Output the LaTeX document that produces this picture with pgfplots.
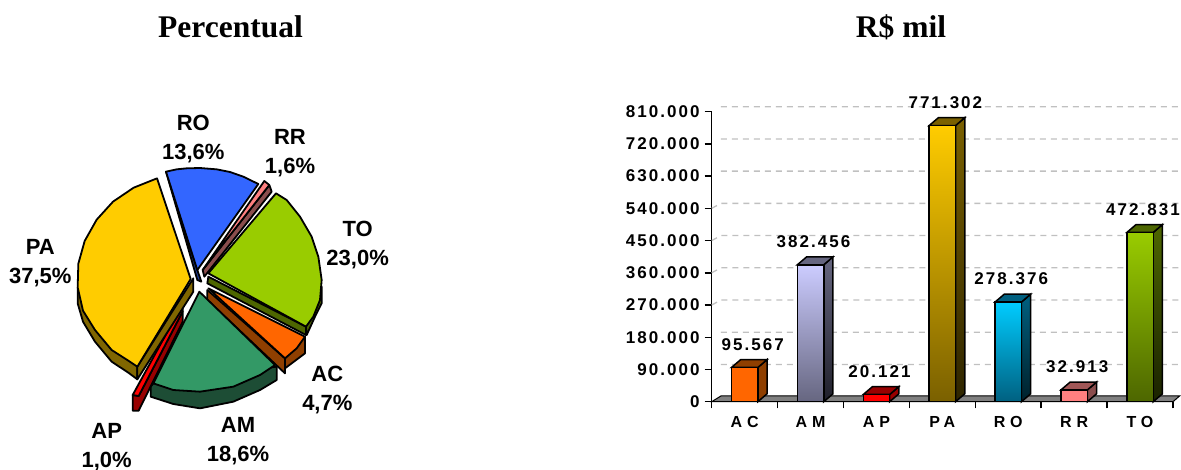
\documentclass[border=0pt]{standalone}
\usepackage{fontspec}
\usepackage{pgfplots}
\pgfplotsset{compat=1.18}
\setmainfont{Liberation Sans}
\newfontfamily\titlefont{Liberation Serif}
\newfontfamily\spaced[LetterSpace=12]{Liberation Sans}
\newfontfamily\wide[LetterSpace=30]{Liberation Sans}

\definecolor{cAC}{HTML}{FF6600}\definecolor{dAC}{HTML}{8F3F00}
\definecolor{cAMp}{HTML}{339966}\definecolor{dAMp}{HTML}{1D4D35}
\definecolor{cAP}{HTML}{FF0000}\definecolor{dAP}{HTML}{990000}
\definecolor{cPA}{HTML}{FFCC00}\definecolor{dPA}{HTML}{806600}
\definecolor{cROp}{HTML}{3366FF}\definecolor{dROp}{HTML}{1F3D99}
\definecolor{cRR}{HTML}{FF8080}\definecolor{dRR}{HTML}{8A4D4D}
\definecolor{cTO}{HTML}{99CC00}\definecolor{dTO}{HTML}{4D6600}
\definecolor{cAM}{HTML}{CCCCFF}\definecolor{mAM}{HTML}{666680}\definecolor{kAM}{HTML}{1F1F2A}
\definecolor{kPA}{HTML}{2E2500}\definecolor{mPA}{HTML}{7A6000}
\definecolor{cRO}{HTML}{00CCFF}\definecolor{mRO}{HTML}{006080}\definecolor{kRO}{HTML}{00202A}
\definecolor{kTO}{HTML}{1A2200}
\definecolor{gridc}{HTML}{C0C0C0}\definecolor{floorc}{HTML}{808080}

\pgfplotsset{
  wedge/.style={draw=black, line width=1.8pt, line join=round},
}
\tikzset{pielabel/.style={font=\bfseries\fontsize{22}{29}\selectfont, align=center, inner sep=0pt}}

\begin{document}
\begin{tikzpicture}[x=1pt,y=1pt]
\path[use as bounding box] (0,0) rectangle (1181,469);
\node[font=\titlefont\bfseries\fontsize{31.5}{32}\selectfont] at (230.5,442) {Percentual};
\node[font=\titlefont\bfseries\fontsize{31.5}{32}\selectfont] at (901,442) {R\$ mil};

% pie: coordinates are picture positions, y runs downward
\begin{axis}[
    at={(0pt,0pt)}, anchor=south west,
    scale only axis, width=400pt, height=369pt,
    xmin=0, xmax=1200, ymin=0, ymax=1107, y dir=reverse,
    hide axis, clip=false,
]
% RO
\addplot[wedge, fill=dROp] coordinates {(498,215)(592,540)(604,545)(592,510)} -- cycle;
\addplot[wedge, fill=cROp] coordinates {(592,510)(498,215)(530,208)(560,205)(600,204)(650,208)(690,216)(730,230)(775,252)} -- cycle;
% RR
\addplot[wedge, fill=dRR] coordinates {(808,255)(815,275)(613,530)(608,510)} -- cycle;
\addplot[wedge, fill=cRR] coordinates {(608,510)(793,243)(808,255)} -- cycle;
% TO
\addplot[wedge, fill=dTO] coordinates {(965,560)(965,610)(945,650)(920,705)(918,680)} -- cycle;
\addplot[wedge, fill=dTO] coordinates {(625,530)(918,680)(918,705)(622,550)} -- cycle;
\addplot[wedge, fill=cTO] coordinates {(625,520)(828,280)(860,300)(900,350)(935,410)(955,470)(965,540)(960,600)(940,650)(918,680)} -- cycle;
% AC
\addplot[wedge, fill=dAC] coordinates {(915,710)(915,760)(855,805)(855,775)} -- cycle;
\addplot[wedge, fill=dAC] coordinates {(622,570)(855,775)(855,820)(622,600)} -- cycle;
\addplot[wedge, fill=cAC] coordinates {(625,565)(915,710)(890,745)(855,775)} -- cycle;
% AM
\addplot[wedge, fill=dAMp] coordinates {(460,850)(452,860)(452,890)(520,912)(600,925)(700,905)(780,870)(830,840)(830,800)} -- cycle;
\addplot[wedge, fill=cAMp] coordinates {(598,575)(825,795)(780,825)(700,860)(600,875)(520,870)(460,850)} -- cycle;
% AP
\addplot[wedge, fill=dAP] coordinates {(398,885)(398,932)(416,932)(548,665)(548,634)(416,888)} -- cycle;
\addplot[wedge, fill=cAP] coordinates {(548,612)(398,885)(416,888)(548,634)} -- cycle;
% PA
\addplot[wedge, fill=dPA] coordinates {(233,562)(233,610)(249,665)(285,725)(335,785)(385,818)(412,838)(412,800)} -- cycle;
\addplot[wedge, fill=dPA] coordinates {(412,800)(412,838)(580,575)(580,535)} -- cycle;
\addplot[wedge, fill=cPA] coordinates {(572,537)(471,235)(401,263)(339,305)(290,359)(254,423)(235,491)(233,562)(249,632)(285,690)(335,750)(385,782)(412,800)} -- cycle;

\node[pielabel] at (axis cs:580,118) {RO\\13,6\%};
\node[pielabel] at (axis cs:870,159) {RR\\1,6\%};
\node[pielabel] at (axis cs:1073,435) {TO\\23,0\%};
\node[pielabel] at (axis cs:121,490) {PA\\37,5\%};
\node[pielabel] at (axis cs:982,869) {AC\\4,7\%};
\node[pielabel] at (axis cs:714,1023) {AM\\18,6\%};
\node[pielabel] at (axis cs:320,1042) {AP\\1,0\%};
\end{axis}

% bars
\begin{axis}[
    at={(711.7pt,67.3pt)}, anchor=south west,
    scale only axis, width=461.3pt, height=290pt,
    xmin=0.5, xmax=7.5, ymin=0, ymax=810000,
    clip=false, unbounded coords=jump,
    axis x line*=bottom, axis y line*=left,
    axis line style={-, line width=1.5pt},
    tick align=outside,
    xtick={1,2,3,4,5,6,7},
    xticklabels={AC,AM,AP,PA,RO,RR,TO},
    minor xtick={0.5,1.5,2.5,3.5,4.5,5.5,6.5,7.5},
    major x tick style={draw=none},
    minor tick length=6.7pt,
    ytick={0,90000,180000,270000,360000,450000,540000,630000,720000,810000},
    major tick length=7pt,
    tick style={line width=1.5pt, black},
    scaled y ticks=false,
    /pgf/number format/.cd, fixed, precision=0, 1000 sep={.}, assume math mode=true,
    /pgfplots/.cd,
    yticklabel style={font=\spaced\bfseries\fontsize{17}{17}\selectfont, inner sep=0pt, xshift=-5pt},
    xticklabel style={font=\wide\bfseries\fontsize{16}{16}\selectfont, inner sep=0pt, text height=12pt, text depth=0pt, yshift=-7pt},
    nodes near coords align={anchor=center},
    every node near coord/.append style={font=\spaced\bfseries\fontsize{17}{17}\selectfont, black, yshift=23pt, xshift=3pt, inner sep=0pt},
]
% floor and back grid
\addplot[fill=floorc, draw=black, line width=1pt] coordinates {(0.5,0)(0.64,16000)(7.6,16000)(7.5,0)} -- cycle;
\addplot[gridc, line width=1.3pt, dash pattern=on 6pt off 5pt] coordinates {
  (0.64,824000)(7.6,824000)(7.6,nan)
  (0.64,734000)(7.6,734000)(7.6,nan)
  (0.64,644000)(7.6,644000)(7.6,nan)
  (0.5,540000)(0.64,554000)(7.6,554000)(7.6,nan)
  (0.5,450000)(0.64,464000)(7.6,464000)(7.6,nan)
  (0.5,360000)(0.64,374000)(7.6,374000)(7.6,nan)
  (0.5,270000)(0.64,284000)(7.6,284000)(7.6,nan)
  (0.64,194000)(7.6,194000)(7.6,nan)
  (0.64,104000)(7.6,104000)
};
% AC
\addplot[draw=black, line width=1.5pt, fill=dAC] coordinates {(1.2,0)(1.34,22000)(1.34,117567)(1.2,95567)} -- cycle;
\addplot[draw=black, line width=1.5pt, fill=dAC] coordinates {(0.8,95567)(0.94,117567)(1.34,117567)(1.2,95567)} -- cycle;
\addplot[ybar, bar width=26.4pt, draw=black, line width=1.5pt, fill=cAC, nodes near coords, every node near coord/.append style={xshift=5pt}] coordinates {(1,95567)};
% AM
\addplot[draw=black, line width=1.5pt, top color=mAM, bottom color=kAM] coordinates {(2.2,0)(2.34,22000)(2.34,404456)(2.2,382456)} -- cycle;
\addplot[draw=black, line width=1.5pt, fill=mAM] coordinates {(1.8,382456)(1.94,404456)(2.34,404456)(2.2,382456)} -- cycle;
\addplot[ybar, bar width=26.4pt, draw=black, line width=1.5pt, top color=cAM, bottom color=mAM, nodes near coords] coordinates {(2,382456)};
% AP
\addplot[draw=black, line width=1.5pt, fill=dAP] coordinates {(3.2,0)(3.34,22000)(3.34,42121)(3.2,20121)} -- cycle;
\addplot[draw=black, line width=1.5pt, fill=dAP] coordinates {(2.8,20121)(2.94,42121)(3.34,42121)(3.2,20121)} -- cycle;
\addplot[ybar, bar width=26.4pt, draw=black, line width=1.5pt, fill=cAP, nodes near coords] coordinates {(3,20121)};
% PA
\addplot[draw=black, line width=1.5pt, top color=mPA, bottom color=kPA] coordinates {(4.2,0)(4.34,22000)(4.34,793302)(4.2,771302)} -- cycle;
\addplot[draw=black, line width=1.5pt, fill=mPA] coordinates {(3.8,771302)(3.94,793302)(4.34,793302)(4.2,771302)} -- cycle;
\addplot[ybar, bar width=26.4pt, draw=black, line width=1.5pt, top color=cPA, bottom color=mPA, nodes near coords] coordinates {(4,771302)};
% RO
\addplot[draw=black, line width=1.5pt, top color=mRO, bottom color=kRO] coordinates {(5.2,0)(5.34,22000)(5.34,300376)(5.2,278376)} -- cycle;
\addplot[draw=black, line width=1.5pt, fill=mRO] coordinates {(4.8,278376)(4.94,300376)(5.34,300376)(5.2,278376)} -- cycle;
\addplot[ybar, bar width=26.4pt, draw=black, line width=1.5pt, top color=cRO, bottom color=mRO, nodes near coords] coordinates {(5,278376)};
% RR
\addplot[draw=black, line width=1.5pt, fill=dRR] coordinates {(6.2,0)(6.34,22000)(6.34,54913)(6.2,32913)} -- cycle;
\addplot[draw=black, line width=1.5pt, fill=dRR!80!cRR] coordinates {(5.8,32913)(5.94,54913)(6.34,54913)(6.2,32913)} -- cycle;
\addplot[ybar, bar width=26.4pt, draw=black, line width=1.5pt, fill=cRR, nodes near coords] coordinates {(6,32913)};
% TO
\addplot[draw=black, line width=1.5pt, top color=dTO, bottom color=kTO] coordinates {(7.2,0)(7.34,22000)(7.34,494831)(7.2,472831)} -- cycle;
\addplot[draw=black, line width=1.5pt, fill=dTO] coordinates {(6.8,472831)(6.94,494831)(7.34,494831)(7.2,472831)} -- cycle;
\addplot[ybar, bar width=26.4pt, draw=black, line width=1.5pt, top color=cTO, bottom color=dTO, nodes near coords] coordinates {(7,472831)};
\end{axis}
\end{tikzpicture}
\end{document}
